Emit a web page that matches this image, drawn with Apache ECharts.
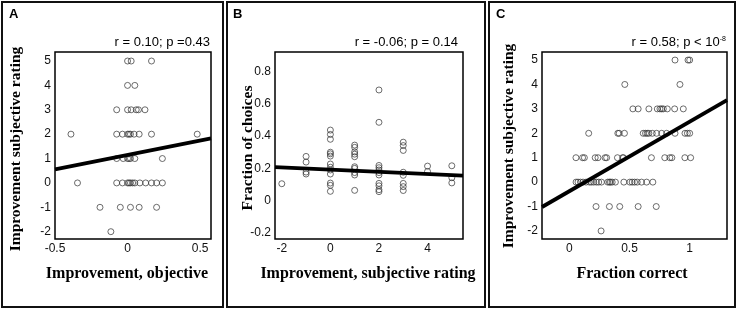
<!DOCTYPE html>
<html>
<head>
<meta charset="UTF-8">
<title>scatter panels</title>
<script src="https://cdn.jsdelivr.net/npm/echarts@6.0.0/dist/echarts.min.js"></script>
<style>
  html, body { margin: 0; padding: 0; background: #fff; }
  #main { width: 737px; height: 310px; }
</style>
</head>
<body>
<div id="main"></div>
<script>
// panel A: objective improvement (x) vs subjective rating (y)
var aPoints = [
  [0.0, 5], [0.025, 5], [0.165, 5],
  [0.0, 4], [0.05, 4],
  [-0.075, 3], [0.0, 3], [0.025, 3], [0.06, 3], [0.075, 3], [0.12, 3],
  [-0.39, 2], [-0.075, 2], [-0.035, 2], [0.0, 2], [0.01, 2], [0.02, 2], [0.045, 2], [0.08, 2], [0.165, 2], [0.48, 2],
  [-0.075, 1], [-0.03, 1], [0.0, 1], [0.01, 1], [0.02, 1], [0.05, 1], [0.24, 1],
  [-0.345, 0], [-0.075, 0], [-0.035, 0], [0.0, 0], [0.01, 0], [0.02, 0], [0.035, 0], [0.05, 0], [0.085, 0], [0.125, 0], [0.165, 0], [0.2, 0], [0.24, 0],
  [-0.19, -1], [-0.05, -1], [0.02, -1], [0.08, -1], [0.2, -1],
  [-0.115, -2]
];
var aFit = [[-0.5, 0.56], [0.575, 1.83]];

// panel B: subjective rating (x) vs fraction of choices (y)
var bPoints = [
  [-2, 0.105],
  [-1, 0.274], [-1, 0.239], [-1, 0.177], [-1, 0.165],
  [0, 0.437], [0, 0.41], [0, 0.38], [0, 0.3], [0, 0.29], [0, 0.276], [0, 0.227], [0, 0.207], [0, 0.19], [0, 0.165], [0, 0.109], [0, 0.095], [0, 0.058],
  [1, 0.344], [1, 0.33], [1, 0.302], [1, 0.288], [1, 0.272], [1, 0.21], [1, 0.2], [1, 0.174], [1, 0.159], [1, 0.064],
  [2, 0.685], [2, 0.485], [2, 0.218], [2, 0.204], [2, 0.19], [2, 0.174], [2, 0.159], [2, 0.107], [2, 0.092], [2, 0.068], [2, 0.056],
  [3, 0.362], [3, 0.341], [3, 0.311], [3, 0.176], [3, 0.157], [3, 0.107], [3, 0.087], [3, 0.063],
  [4, 0.214], [4, 0.181],
  [5, 0.216], [5, 0.142], [5, 0.11]
];
var bFit = [[-2.28, 0.208], [5.46, 0.155]];

// panel C: fraction correct (x) vs subjective rating (y)
var cPoints = [
  [0.878, 5], [0.986, 5], [1.0, 5],
  [0.461, 4], [0.919, 4],
  [0.528, 3], [0.572, 3], [0.661, 3], [0.731, 3], [0.753, 3], [0.767, 3], [0.781, 3], [0.814, 3], [0.875, 3], [0.947, 3],
  [0.161, 2], [0.403, 2], [0.414, 2], [0.458, 2], [0.614, 2], [0.633, 2], [0.647, 2], [0.661, 2], [0.689, 2], [0.725, 2], [0.767, 2], [0.808, 2], [0.878, 2], [0.961, 2], [0.981, 2], [1.0, 2],
  [0.055, 1], [0.11, 1], [0.125, 1], [0.215, 1], [0.238, 1], [0.297, 1], [0.31, 1], [0.4, 1], [0.443, 1], [0.45, 1], [0.682, 1], [0.793, 1], [0.835, 1], [0.852, 1], [0.96, 1], [1.008, 1],
  [0.056, 0], [0.072, 0], [0.092, 0], [0.114, 0], [0.139, 0], [0.167, 0], [0.183, 0], [0.203, 0], [0.225, 0], [0.244, 0], [0.267, 0], [0.319, 0], [0.333, 0], [0.342, 0], [0.356, 0], [0.383, 0], [0.453, 0], [0.503, 0], [0.522, 0], [0.542, 0], [0.564, 0], [0.6, 0], [0.642, 0], [0.694, 0],
  [0.222, -1], [0.333, -1], [0.419, -1], [0.572, -1], [0.722, -1],
  [0.264, -2]
];
var cFit = [[-0.227, -1.02], [1.31, 3.36]];

// tick labels
var ratingTicks = [-2, -1, 0, 1, 2, 3, 4, 5];
var aXTicks = [-0.5, 0, 0.5];
var bXTicks = [-2, 0, 2, 4];
var bYTicks = [-0.2, 0, 0.2, 0.4, 0.6, 0.8];
var cXTicks = [0, 0.5, 1];

var chart = echarts.init(document.getElementById('main'));

function axis(gi, min, max, ticks) {
  return {
    type: 'value', gridIndex: gi, min: min, max: max,
    axisLine: { show: false }, axisTick: { show: false }, splitLine: { show: false },
    axisLabel: { customValues: ticks, color: '#111', fontSize: 12, fontFamily: 'Liberation Sans', margin: 4 }
  };
}
function dots(gi, data) {
  return {
    type: 'scatter', xAxisIndex: gi, yAxisIndex: gi, data: data,
    symbol: 'circle', symbolSize: 6, silent: true,
    itemStyle: { color: 'rgba(0,0,0,0)', borderColor: '#333', borderWidth: 0.9 }
  };
}
function fit(gi, data) {
  return {
    type: 'line', xAxisIndex: gi, yAxisIndex: gi, data: data, z: 5,
    symbol: 'none', silent: true,
    lineStyle: { color: '#000', width: 3.8 }
  };
}
function label(text, x, y, rot, font, align) {
  return {
    type: 'text', x: x, y: y, rotation: rot || 0,
    style: { text: text, x: 0, y: 0, align: align || 'center', verticalAlign: 'middle', font: font, fill: '#000' }
  };
}
function frame(x, w) {
  return { type: 'rect', shape: { x: x, y: 2, width: w, height: 305 }, style: { fill: 'none', stroke: '#111', lineWidth: 2 } };
}

var titleFont = 'bold 16px "Liberation Serif"';
var yTitleFont = 'bold 15.5px "Liberation Serif"';
var noteFont = '13px "Liberation Sans"';
var letterFont = 'bold 13px "Liberation Sans"';
var gridStyle = { show: true, borderColor: '#000', borderWidth: 1.5, backgroundColor: 'rgba(0,0,0,0)' };

chart.setOption({
  animation: false,
  grid: [
    Object.assign({ left: 55, top: 52, width: 156, height: 187 }, gridStyle),
    Object.assign({ left: 275, top: 52, width: 188, height: 187 }, gridStyle),
    Object.assign({ left: 542, top: 52, width: 185, height: 187 }, gridStyle)
  ],
  xAxis: [
    axis(0, -0.5, 0.575, aXTicks),
    axis(1, -2.28, 5.46, bXTicks),
    axis(2, -0.227, 1.31, cXTicks)
  ],
  yAxis: [
    axis(0, -2.3, 5.37, ratingTicks),
    axis(1, -0.237, 0.92, bYTicks),
    axis(2, -2.33, 5.33, ratingTicks)
  ],
  series: [
    dots(0, aPoints), fit(0, aFit),
    dots(1, bPoints), fit(1, bFit),
    dots(2, cPoints), fit(2, cFit)
  ],
  graphic: [
    frame(2, 221), frame(227, 258), frame(489, 246),
    label('A', 9, 14, 0, letterFont, 'left'),
    label('B', 233, 14, 0, letterFont, 'left'),
    label('C', 496, 14, 0, letterFont, 'left'),
    label('r = 0.10; p =0.43', 210, 42, 0, noteFont, 'right'),
    label('r = -0.06; p = 0.14', 458, 42, 0, noteFont, 'right'),
    {
      type: 'text', x: 726, y: 42,
      style: {
        text: '{n|r = 0.58; p < 10}{s|-8}', x: 0, y: 0, align: 'right', verticalAlign: 'middle', fill: '#000',
        rich: {
          n: { font: noteFont, fill: '#000' },
          s: { font: '7px "Liberation Sans"', fill: '#000', verticalAlign: 'top' }
        }
      }
    },
    label('Improvement, objective', 127, 274, 0, titleFont),
    label('Improvement, subjective rating', 368, 274, 0, titleFont),
    label('Fraction correct', 632, 274, 0, titleFont),
    label('Improvement subjective rating', 16, 149, Math.PI / 2, yTitleFont),
    label('Fraction of choices', 248, 148, Math.PI / 2, yTitleFont),
    label('Improvement subjective rating', 509, 146, Math.PI / 2, yTitleFont)
  ]
});
</script>
</body>
</html>
